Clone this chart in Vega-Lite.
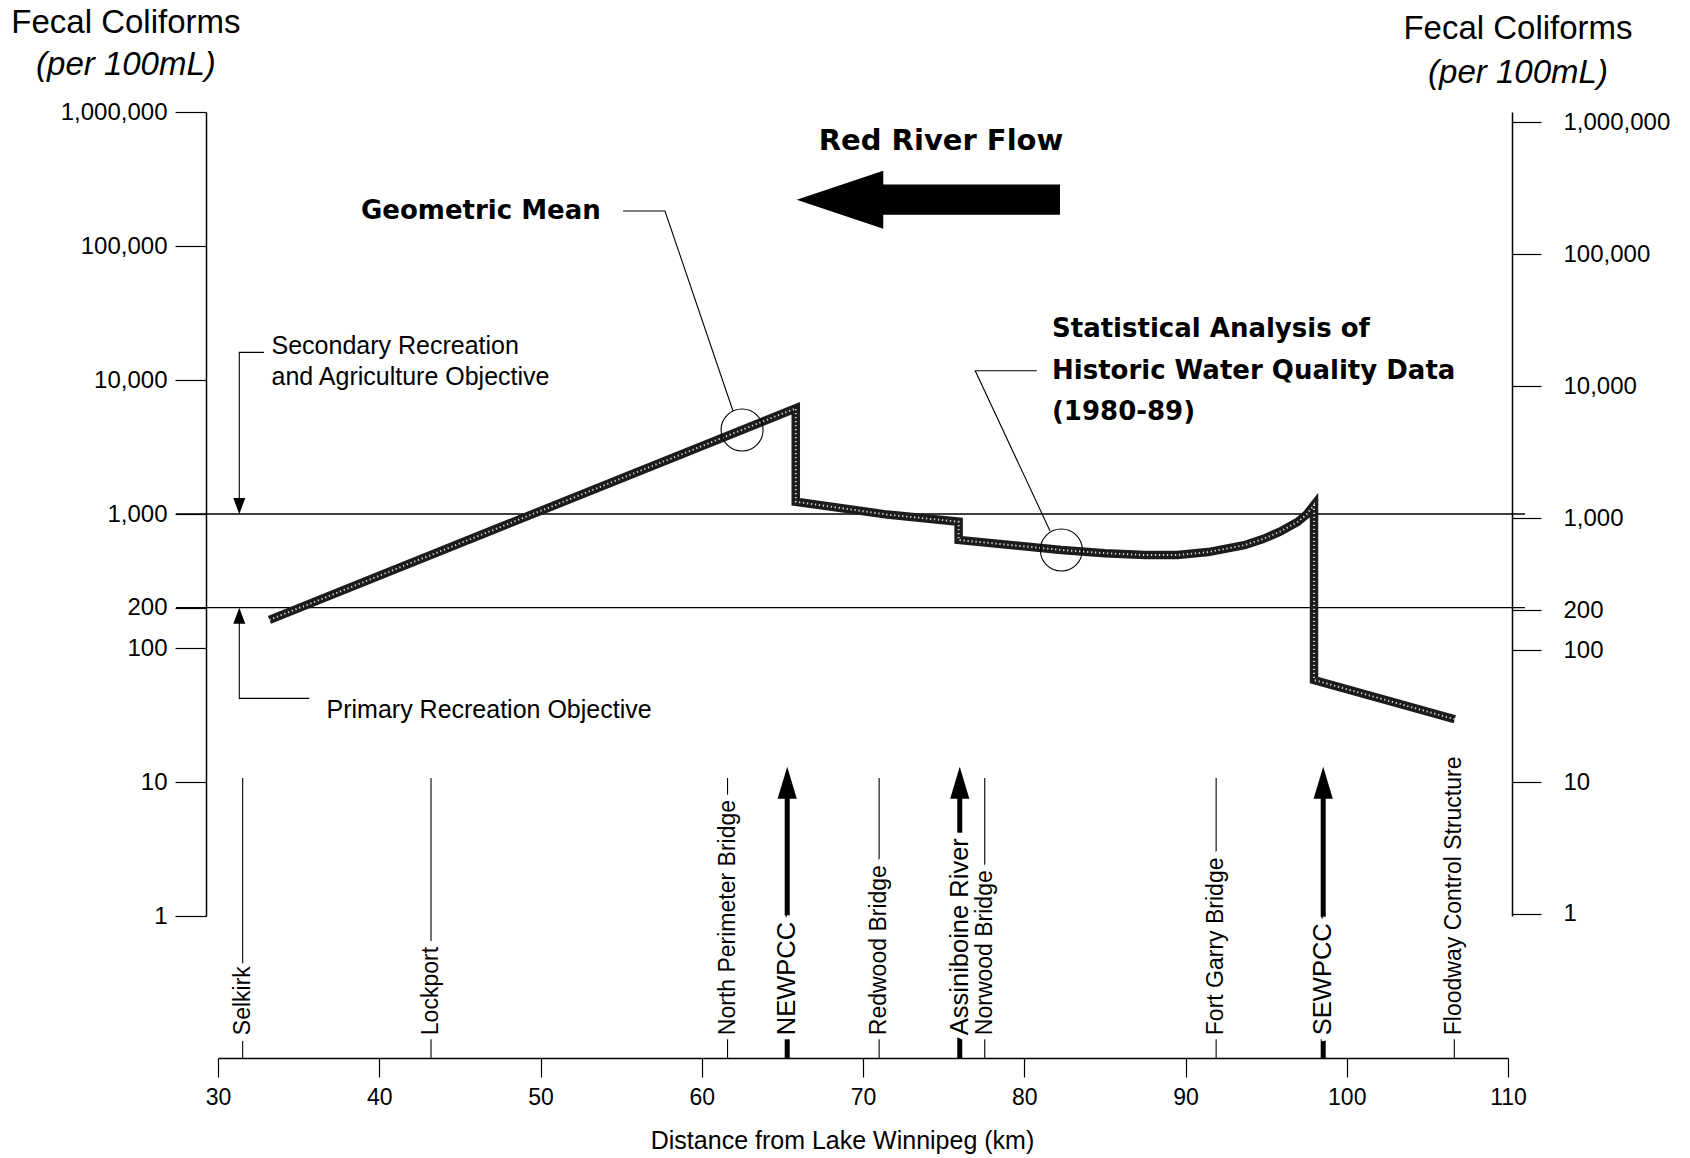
{
  "$schema": "https://vega.github.io/schema/vega-lite/v6.json",
  "width": 1290,
  "height": 804,
  "autosize": {"type": "none"},
  "padding": {"left": 218, "top": 112, "right": 182, "bottom": 242},
  "background": "white",
  "config": {"view": {"stroke": null}, "font": "Liberation Sans"},
  "datasets": {
    "geo": [
      {"seq": 1, "km": 33.19, "count": 162},
      {"seq": 2, "km": 65.83, "count": 6150},
      {"seq": 3, "km": 65.83, "count": 1235},
      {"seq": 4, "km": 71.5, "count": 990},
      {"seq": 5, "km": 75.93, "count": 876},
      {"seq": 6, "km": 75.93, "count": 640},
      {"seq": 7, "km": 82.3, "count": 539},
      {"seq": 8, "km": 85.0, "count": 510},
      {"seq": 9, "km": 87.5, "count": 494},
      {"seq": 10, "km": 89.5, "count": 494},
      {"seq": 11, "km": 91.4, "count": 520},
      {"seq": 12, "km": 93.65, "count": 585},
      {"seq": 13, "km": 94.8, "count": 650},
      {"seq": 14, "km": 95.86, "count": 738},
      {"seq": 15, "km": 96.97, "count": 876},
      {"seq": 16, "km": 97.5, "count": 990},
      {"seq": 17, "km": 97.97, "count": 1167},
      {"seq": 18, "km": 97.97, "count": 57.7},
      {"seq": 19, "km": 106.7, "count": 29.4}
    ],
    "sites": [
      {"name": "Selkirk", "km": 31.53, "kind": "site"},
      {"name": "Lockport", "km": 43.21, "kind": "site"},
      {"name": "North Perimeter Bridge", "km": 61.6, "kind": "site"},
      {"name": "NEWPCC", "km": 65.3, "kind": "inflow"},
      {"name": "Redwood Bridge", "km": 71.0, "kind": "site"},
      {"name": "Assiniboine River", "km": 76.0, "kind": "inflow"},
      {"name": "Norwood Bridge", "km": 77.55, "kind": "site"},
      {"name": "Fort Garry Bridge", "km": 91.9, "kind": "site"},
      {"name": "SEWPCC", "km": 98.54, "kind": "inflow"},
      {"name": "Floodway Control Structure", "km": 106.67, "kind": "site"}
    ],
    "objectives": [
      {"name": "Secondary Recreation and Agriculture Objective", "level": 1000, "dir": "down"},
      {"name": "Primary Recreation Objective", "level": 200, "dir": "up"}
    ],
    "leaders": [
      {"id": "gm", "seq": 1, "km": 55.12, "count": 182500},
      {"id": "gm", "seq": 2, "km": 57.72, "count": 182500},
      {"id": "gm", "seq": 3, "km": 61.94, "count": 5870},
      {"id": "stat", "seq": 1, "km": 80.78, "count": 11720},
      {"id": "stat", "seq": 2, "km": 76.96, "count": 11720},
      {"id": "stat", "seq": 3, "km": 81.6, "count": 747},
      {"id": "sec", "seq": 1, "km": 32.85, "count": 16070},
      {"id": "sec", "seq": 2, "km": 31.32, "count": 16070},
      {"id": "sec", "seq": 3, "km": 31.32, "count": 1100},
      {"id": "pri", "seq": 1, "km": 35.66, "count": 42.1},
      {"id": "pri", "seq": 2, "km": 31.32, "count": 42.1},
      {"id": "pri", "seq": 3, "km": 31.32, "count": 180}
    ],
    "circles": [
      {"label": "Geometric Mean", "km": 62.5, "count": 4236},
      {"label": "Statistical Analysis", "km": 82.3, "count": 539}
    ],
    "boldNotes": [
      {"text": "Geometric Mean", "km": 38.87, "count": 182500},
      {"text": "Statistical Analysis of", "km": 81.72, "count": 24150},
      {"text": "Historic Water Quality Data", "km": 81.72, "count": 11720},
      {"text": "(1980-89)", "km": 81.72, "count": 5800}
    ],
    "notes": [
      {"text": "Secondary Recreation", "km": 33.32, "count": 17950},
      {"text": "and Agriculture Objective", "km": 33.32, "count": 10520},
      {"text": "Primary Recreation Objective", "km": 36.73, "count": 34.3}
    ],
    "flow": [
      {"text": "Red River Flow", "km": 74.84, "count": 602600, "arrowKm": 74.05, "arrowCount": 221600}
    ],
    "titles": [
      {"line": "Fecal Coliforms", "style": "plain", "km": 24.29, "count": 4620000},
      {"line": "(per 100mL)", "style": "italic", "km": 24.29, "count": 2250000},
      {"line": "Fecal Coliforms", "style": "plain", "km": 110.62, "count": 4160000},
      {"line": "(per 100mL)", "style": "italic", "km": 110.62, "count": 1945000}
    ]
  },
  "layer": [
    {
      "layer": [
        {
          "data": {"name": "objectives"},
          "mark": {"type": "rule", "color": "#000", "strokeWidth": 1.3},
          "encoding": {
            "x": {"datum": 27.4, "type": "quantitative", "scale": {"domain": [30, 110], "nice": false, "zero": false},
              "axis": {"orient": "bottom", "offset": 142, "values": [30, 40, 50, 60, 70, 80, 90, 100, 110], "format": "d",
                "tickSize": 19, "tickWidth": 1.2, "tickColor": "#000", "domainColor": "#000", "domainWidth": 1.5,
                "labelFont": "Liberation Sans Narrow, Liberation Sans", "labelFontSize": 23, "labelColor": "#000", "labelPadding": 9,
                "labelFlush": false, "labelOverlap": false, "grid": false,
                "title": "Distance from Lake Winnipeg (km)", "titleFont": "Liberation Sans", "titleFontSize": 25,
                "titleFontWeight": "normal", "titleColor": "#000", "titleX": 624, "titleY": 82, "titleBaseline": "middle"}},
            "x2": {"datum": 111.05},
            "y": {"field": "level", "type": "quantitative", "scale": {"type": "log", "domain": [1, 1000000], "nice": false},
              "axis": {"orient": "left", "offset": 12, "values": [1, 10, 100, 200, 1000, 10000, 100000, 1000000], "format": ",",
                "tickSize": 31, "tickWidth": 1.2, "tickColor": "#000", "domainColor": "#000", "domainWidth": 1.5,
                "labelFont": "Liberation Sans", "labelFontSize": 24, "labelColor": "#000", "labelPadding": 8,
                "labelFlush": false, "labelOverlap": false, "labelBound": false, "grid": false, "title": null}}
          }
        },
        {
          "data": {"name": "geo"},
          "mark": {"type": "line", "color": "#1c1c1c", "strokeWidth": 8.5, "strokeJoin": "miter", "strokeCap": "butt"},
          "encoding": {
            "x": {"field": "km", "type": "quantitative", "scale": {"domain": [30, 110], "nice": false, "zero": false}},
            "y": {"field": "count", "type": "quantitative", "scale": {"type": "log", "domain": [1, 1000000], "nice": false}},
            "order": {"field": "seq"}
          }
        },
        {
          "data": {"name": "geo"},
          "mark": {"type": "line", "color": "#ffffff", "strokeWidth": 1.9, "strokeDash": [1.3, 2.7], "strokeJoin": "miter", "strokeCap": "butt", "opacity": 0.8},
          "encoding": {
            "x": {"field": "km", "type": "quantitative", "scale": {"domain": [30, 110], "nice": false, "zero": false}},
            "y": {"field": "count", "type": "quantitative", "scale": {"type": "log", "domain": [1, 1000000], "nice": false}},
            "order": {"field": "seq"}
          }
        },
        {
          "data": {"name": "circles"},
          "mark": {"type": "point", "shape": "circle", "size": 1764, "filled": false, "stroke": "#000", "strokeWidth": 1.1, "opacity": 1},
          "encoding": {
            "x": {"field": "km", "type": "quantitative", "scale": {"domain": [30, 110], "nice": false, "zero": false}},
            "y": {"field": "count", "type": "quantitative", "scale": {"type": "log", "domain": [1, 1000000], "nice": false}}
          }
        },
        {
          "data": {"name": "leaders"},
          "mark": {"type": "line", "color": "#000", "strokeWidth": 1.1},
          "encoding": {
            "x": {"field": "km", "type": "quantitative", "scale": {"domain": [30, 110], "nice": false, "zero": false}},
            "y": {"field": "count", "type": "quantitative", "scale": {"type": "log", "domain": [1, 1000000], "nice": false}},
            "detail": {"field": "id"},
            "order": {"field": "seq"}
          }
        },
        {
          "data": {"name": "objectives"},
          "transform": [{"filter": "datum.dir === 'down'"}],
          "mark": {"type": "point", "shape": "M0,0 L-0.75,-2 L0.75,-2 Z", "size": 256, "filled": true, "color": "#000", "opacity": 1},
          "encoding": {
            "x": {"datum": 31.32, "type": "quantitative", "scale": {"domain": [30, 110], "nice": false, "zero": false}},
            "y": {"field": "level", "type": "quantitative", "scale": {"type": "log", "domain": [1, 1000000], "nice": false}}
          }
        },
        {
          "data": {"name": "objectives"},
          "transform": [{"filter": "datum.dir === 'up'"}],
          "mark": {"type": "point", "shape": "M0,0 L-0.75,2 L0.75,2 Z", "size": 256, "filled": true, "color": "#000", "opacity": 1},
          "encoding": {
            "x": {"datum": 31.32, "type": "quantitative", "scale": {"domain": [30, 110], "nice": false, "zero": false}},
            "y": {"field": "level", "type": "quantitative", "scale": {"type": "log", "domain": [1, 1000000], "nice": false}}
          }
        },
        {
          "data": {"name": "sites"},
          "transform": [{"filter": "datum.kind === 'site'"}],
          "mark": {"type": "rule", "color": "#000", "strokeWidth": 1.1},
          "encoding": {
            "x": {"field": "km", "type": "quantitative", "scale": {"domain": [30, 110], "nice": false, "zero": false}},
            "y": {"datum": 10.7, "type": "quantitative", "scale": {"type": "log", "domain": [1, 1000000], "nice": false}},
            "y2": {"datum": 0.0871}
          }
        },
        {
          "data": {"name": "sites"},
          "transform": [{"filter": "datum.kind === 'inflow'"}],
          "mark": {"type": "rule", "color": "#000", "strokeWidth": 5},
          "encoding": {
            "x": {"field": "km", "type": "quantitative", "scale": {"domain": [30, 110], "nice": false, "zero": false}},
            "y": {"datum": 10.5, "type": "quantitative", "scale": {"type": "log", "domain": [1, 1000000], "nice": false}},
            "y2": {"datum": 0.0871}
          }
        },
        {
          "data": {"name": "sites"},
          "transform": [{"filter": "datum.kind === 'inflow'"}],
          "mark": {"type": "point", "shape": "M0,0 L-0.6,2 L0.6,2 Z", "size": 1024, "filled": true, "color": "#000", "opacity": 1},
          "encoding": {
            "x": {"field": "km", "type": "quantitative", "scale": {"domain": [30, 110], "nice": false, "zero": false}},
            "y": {"datum": 13, "type": "quantitative", "scale": {"type": "log", "domain": [1, 1000000], "nice": false}}
          }
        },
        {
          "data": {"name": "sites"},
          "transform": [{"filter": "datum.kind === 'site'"}],
          "mark": {"type": "text", "angle": 270, "align": "left", "baseline": "middle", "font": "Liberation Sans", "fontSize": 23, "fill": "#fff", "stroke": "#fff", "strokeWidth": 12},
          "encoding": {
            "x": {"field": "km", "type": "quantitative", "scale": {"domain": [30, 110], "nice": false, "zero": false}},
            "y": {"datum": 0.129, "type": "quantitative", "scale": {"type": "log", "domain": [1, 1000000], "nice": false}},
            "text": {"field": "name"}
          }
        },
        {
          "data": {"name": "sites"},
          "transform": [{"filter": "datum.kind === 'inflow'"}],
          "mark": {"type": "text", "angle": 270, "align": "left", "baseline": "middle", "font": "Liberation Sans", "fontSize": 25.5, "fill": "#fff", "stroke": "#fff", "strokeWidth": 12},
          "encoding": {
            "x": {"field": "km", "type": "quantitative", "scale": {"domain": [30, 110], "nice": false, "zero": false}},
            "y": {"datum": 0.129, "type": "quantitative", "scale": {"type": "log", "domain": [1, 1000000], "nice": false}},
            "text": {"field": "name"}
          }
        },
        {
          "data": {"name": "sites"},
          "transform": [{"filter": "datum.kind === 'site'"}],
          "mark": {"type": "text", "angle": 270, "align": "left", "baseline": "middle", "font": "Liberation Sans", "fontSize": 23, "color": "#000"},
          "encoding": {
            "x": {"field": "km", "type": "quantitative", "scale": {"domain": [30, 110], "nice": false, "zero": false}},
            "y": {"datum": 0.129, "type": "quantitative", "scale": {"type": "log", "domain": [1, 1000000], "nice": false}},
            "text": {"field": "name"}
          }
        },
        {
          "data": {"name": "sites"},
          "transform": [{"filter": "datum.kind === 'inflow'"}],
          "mark": {"type": "text", "angle": 270, "align": "left", "baseline": "middle", "font": "Liberation Sans", "fontSize": 25.5, "color": "#000"},
          "encoding": {
            "x": {"field": "km", "type": "quantitative", "scale": {"domain": [30, 110], "nice": false, "zero": false}},
            "y": {"datum": 0.129, "type": "quantitative", "scale": {"type": "log", "domain": [1, 1000000], "nice": false}},
            "text": {"field": "name"}
          }
        },
        {
          "data": {"name": "boldNotes"},
          "mark": {"type": "text", "align": "left", "baseline": "middle", "font": "DejaVu Sans", "fontWeight": "bold", "fontSize": 26, "color": "#000"},
          "encoding": {
            "x": {"field": "km", "type": "quantitative", "scale": {"domain": [30, 110], "nice": false, "zero": false}},
            "y": {"field": "count", "type": "quantitative", "scale": {"type": "log", "domain": [1, 1000000], "nice": false}},
            "text": {"field": "text"}
          }
        },
        {
          "data": {"name": "flow"},
          "mark": {"type": "text", "align": "center", "baseline": "middle", "font": "DejaVu Sans", "fontWeight": "bold", "fontSize": 29, "color": "#000"},
          "encoding": {
            "x": {"field": "km", "type": "quantitative", "scale": {"domain": [30, 110], "nice": false, "zero": false}},
            "y": {"field": "count", "type": "quantitative", "scale": {"type": "log", "domain": [1, 1000000], "nice": false}},
            "text": {"field": "text"}
          }
        },
        {
          "data": {"name": "flow"},
          "mark": {"type": "point", "shape": "M-1,0 L-0.342,-0.22 L-0.342,-0.115 L1,-0.115 L1,0.115 L-0.342,0.115 L-0.342,0.22 Z", "size": 69327, "filled": true, "color": "#000", "opacity": 1},
          "encoding": {
            "x": {"field": "arrowKm", "type": "quantitative", "scale": {"domain": [30, 110], "nice": false, "zero": false}},
            "y": {"field": "arrowCount", "type": "quantitative", "scale": {"type": "log", "domain": [1, 1000000], "nice": false}}
          }
        },
        {
          "data": {"name": "notes"},
          "mark": {"type": "text", "align": "left", "baseline": "middle", "font": "Liberation Sans", "fontSize": 25, "color": "#000"},
          "encoding": {
            "x": {"field": "km", "type": "quantitative", "scale": {"domain": [30, 110], "nice": false, "zero": false}},
            "y": {"field": "count", "type": "quantitative", "scale": {"type": "log", "domain": [1, 1000000], "nice": false}},
            "text": {"field": "text"}
          }
        },
        {
          "data": {"name": "titles"},
          "transform": [{"filter": "datum.style === 'plain'"}],
          "mark": {"type": "text", "align": "center", "baseline": "middle", "font": "Liberation Sans", "fontSize": 33, "color": "#000"},
          "encoding": {
            "x": {"field": "km", "type": "quantitative", "scale": {"domain": [30, 110], "nice": false, "zero": false}},
            "y": {"field": "count", "type": "quantitative", "scale": {"type": "log", "domain": [1, 1000000], "nice": false}},
            "text": {"field": "line"}
          }
        },
        {
          "data": {"name": "titles"},
          "transform": [{"filter": "datum.style === 'italic'"}],
          "mark": {"type": "text", "align": "center", "baseline": "middle", "font": "Liberation Sans", "fontStyle": "italic", "fontSize": 33, "color": "#000"},
          "encoding": {
            "x": {"field": "km", "type": "quantitative", "scale": {"domain": [30, 110], "nice": false, "zero": false}},
            "y": {"field": "count", "type": "quantitative", "scale": {"type": "log", "domain": [1, 1000000], "nice": false}},
            "text": {"field": "line"}
          }
        }
      ]
    },
    {
      "data": {"values": [{"ref": 1000}]},
      "mark": {"type": "rule", "opacity": 0},
      "encoding": {
        "y": {"field": "ref", "type": "quantitative", "scale": {"type": "log", "domain": [0.9657, 1190700], "nice": false},
          "axis": {"orient": "right", "offset": 4, "values": [1, 10, 100, 200, 1000, 10000, 100000, 1000000], "format": ",",
            "tickSize": 29, "tickWidth": 1.2, "tickColor": "#000", "domainColor": "#000", "domainWidth": 1.5,
            "labelFont": "Liberation Sans", "labelFontSize": 24, "labelColor": "#000", "labelPadding": 22,
            "labelFlush": false, "labelOverlap": false, "labelBound": false, "grid": false, "title": null}}
      }
    }
  ],
  "resolve": {"scale": {"y": "independent"}}
}
